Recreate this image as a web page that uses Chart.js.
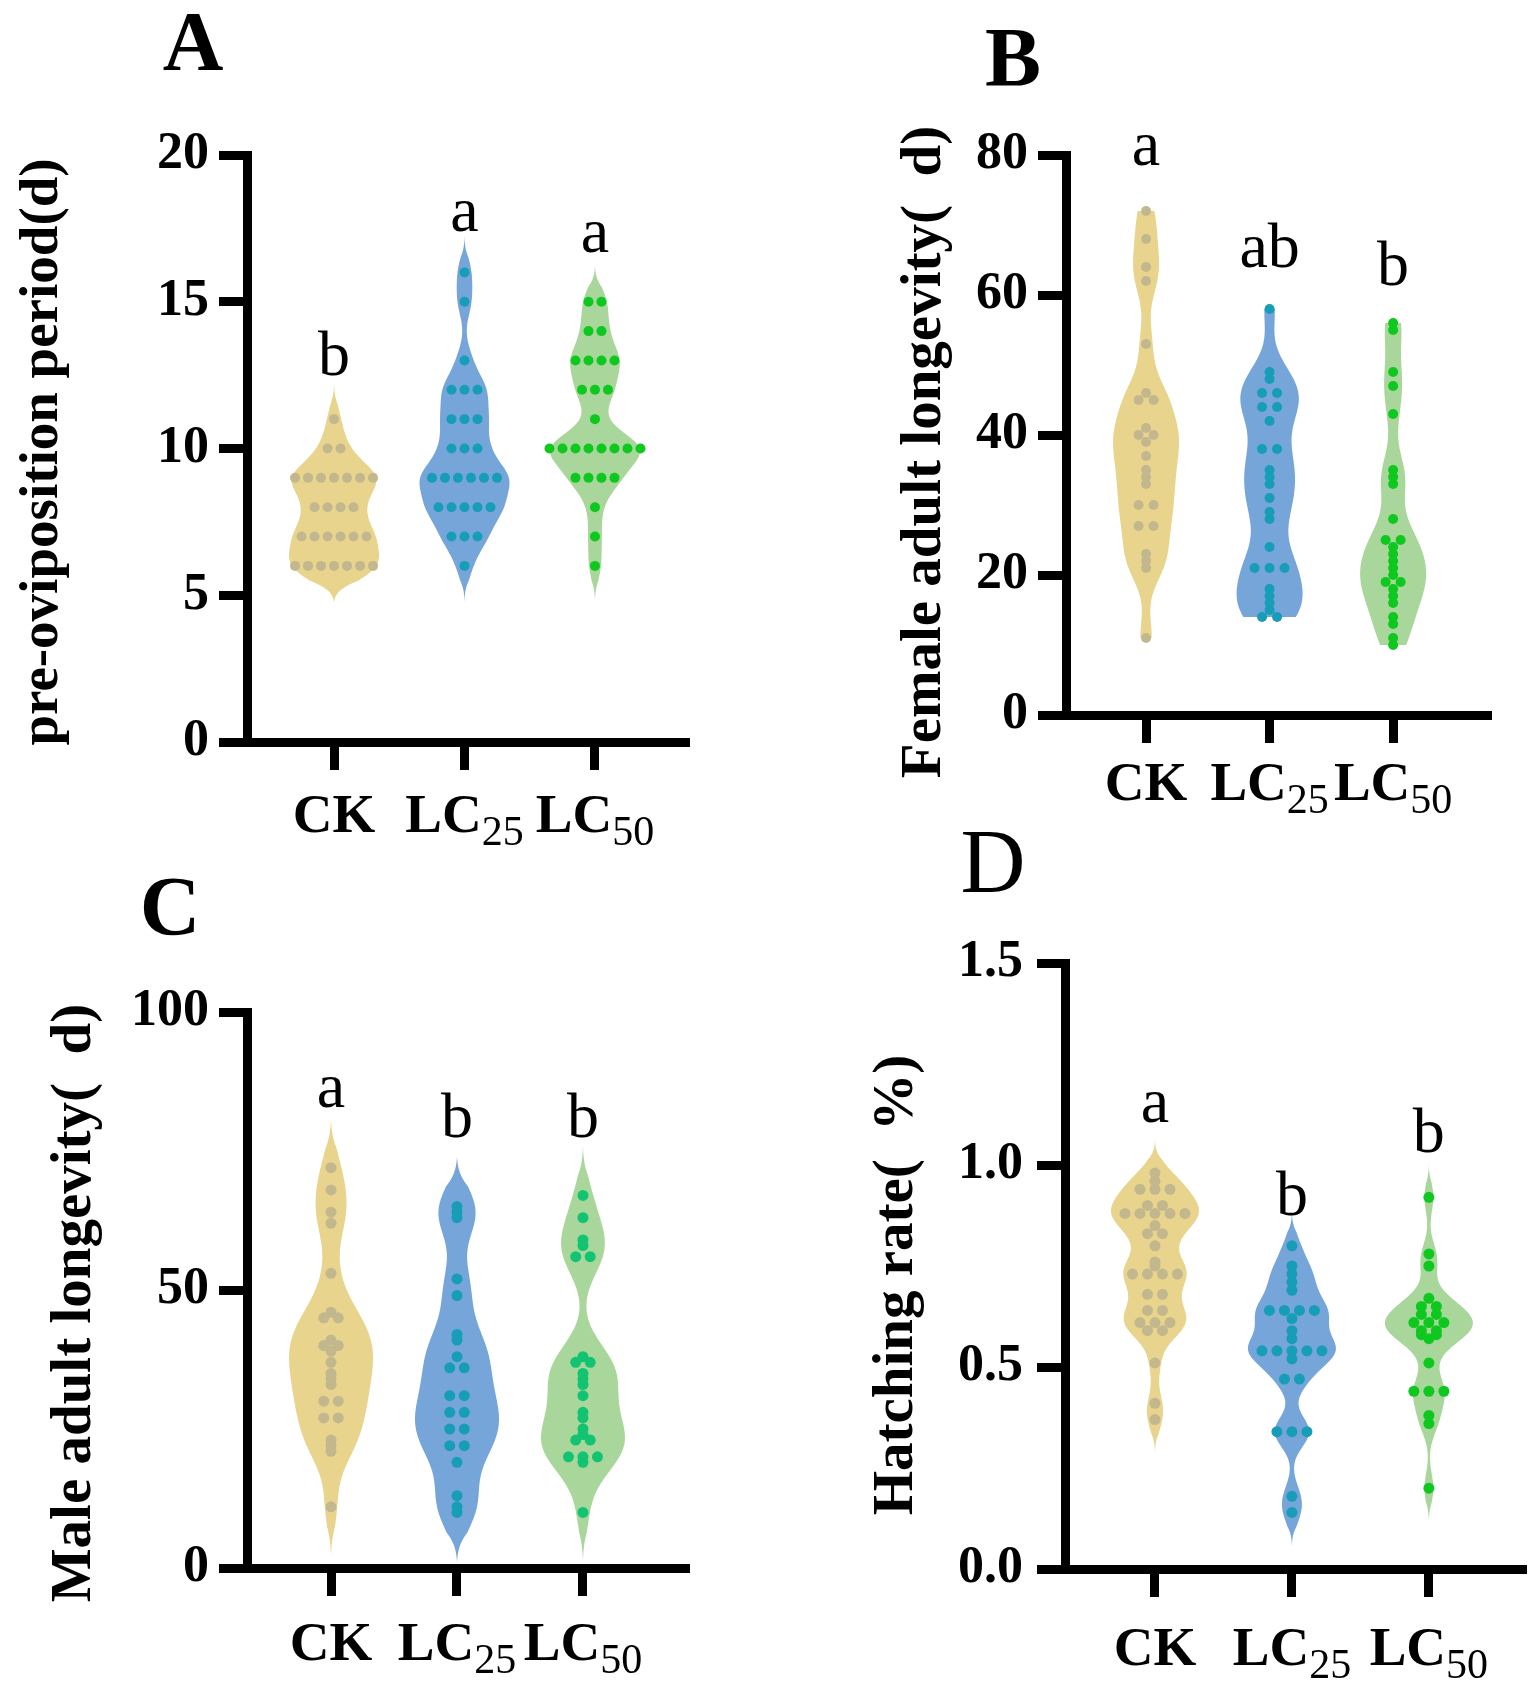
<!DOCTYPE html>
<html>
<head>
<meta charset="utf-8">
<script src="https://cdn.jsdelivr.net/npm/chart.js@4.4.1/dist/chart.umd.min.js"></script>
<style>
  html, body { margin: 0; padding: 0; background: #fff; }
  #wrap { position: relative; width: 1529px; height: 1700px; }
  #wrap canvas { position: absolute; left: 0; top: 0; }
</style>
</head>
<body>
<div id="wrap">
  <canvas id="chartA" width="1529" height="1700"></canvas>
  <canvas id="chartB" width="1529" height="1700"></canvas>
  <canvas id="chartC" width="1529" height="1700"></canvas>
  <canvas id="chartD" width="1529" height="1700"></canvas>
</div>
<script>
/* ===== data ===== */
const groupMain = ["CK", "LC", "LC"];
const groupSub = ["", "25", "50"];

// A  pre-oviposition period (d)
const preOviCK   = [11, 10, 10, 9, 9, 9, 9, 9, 9, 9, 8, 8, 8, 8, 7, 7, 7, 7, 7, 7, 6, 6, 6, 6, 6, 6, 6];
const preOviLC25 = [16, 15, 13, 12, 12, 12, 11, 11, 11, 10, 10, 10, 9, 9, 9, 9, 9, 9, 8, 8, 8, 8, 8, 7, 7, 7, 6];
const preOviLC50 = [15, 15, 14, 14, 13, 13, 13, 13, 12, 12, 12, 11, 10, 10, 10, 10, 10, 10, 10, 10, 9, 9, 9, 9, 8, 7, 6];
const preOviTicks = [0, 5, 10, 15, 20];
const preOviLetters = ["b", "a", "a"];
const preOviLetterAt = [12.5, 17.4, 16.7];

// B  female adult longevity (d)
const femaleCK   = [72, 68, 64, 62, 53, 46, 45, 45, 41, 40, 40, 39, 37, 35, 34, 33, 30, 30, 27, 27, 23, 22, 21, 11];
const femaleLC25 = [58, 49, 48, 46, 46, 44, 44, 42, 38, 38, 35, 34, 33, 31, 29, 28, 24, 21, 21, 21, 18, 17, 16, 15, 14, 14];
const femaleLC50 = [56, 55, 49, 47, 43, 35, 34, 33, 28, 25, 25, 24, 23, 22, 21, 20, 19, 19, 18, 17, 16, 14, 13, 11, 10];
const femaleTicks = [0, 20, 40, 60, 80];
const femaleLetters = ["a", "ab", "b"];
const femaleLetterAt = [78.6, 64, 61.4];

// C  male adult longevity (d)
const maleCK   = [72, 68, 64, 62, 53, 46, 45, 45, 41, 40, 40, 39, 37, 35, 34, 33, 30, 30, 27, 27, 23, 22, 21, 11];
const maleLC25 = [65, 64, 63, 52, 49, 42, 41, 38, 36, 36, 31, 31, 28, 28, 25, 25, 22, 22, 19, 13, 11, 10];
const maleLC50 = [67, 63, 59, 58, 56, 56, 38, 37, 37, 35, 34, 33, 31, 28, 27, 25, 24, 23, 23, 20, 20, 20, 19, 10];
const maleTicks = [0, 50, 100];
const maleLetters = ["a", "b", "b"];
const maleLetterAt = [82.9, 77.5, 77.5];

// D  hatching rate (%)
const hatchCK   = [0.98, 0.96, 0.94, 0.94, 0.94, 0.90, 0.90, 0.88, 0.88, 0.88, 0.88, 0.88, 0.85, 0.83, 0.83, 0.80, 0.76,
                   0.75, 0.73, 0.73, 0.73, 0.73, 0.68, 0.68, 0.64, 0.64, 0.61, 0.61, 0.61, 0.59, 0.59, 0.51, 0.41, 0.37];
const hatchLC25 = [0.80, 0.75, 0.73, 0.71, 0.69, 0.64, 0.64, 0.64, 0.64, 0.62, 0.59, 0.57, 0.54, 0.54, 0.54, 0.54, 0.54,
                   0.52, 0.47, 0.47, 0.34, 0.34, 0.34, 0.18, 0.14];
const hatchLC50 = [0.92, 0.78, 0.75, 0.67, 0.65, 0.65, 0.63, 0.63, 0.61, 0.61, 0.61, 0.59, 0.59, 0.58, 0.58, 0.57, 0.51,
                   0.44, 0.44, 0.44, 0.38, 0.36, 0.20];
const hatchTicks = [0, 0.5, 1, 1.5];
const hatchLetters = ["a", "b", "b"];
const hatchLetterAt = [1.106, 0.876, 1.032];

/* ===== styles ===== */
const SERIF = '"Liberation Serif", "Times New Roman", serif';
const violinFills = ["#E8D48D", "#76A5D9", "#A8D69B"];
const dotsGreen = ["#C3B88D", "#179DB8", "#0FC81F"];
const dotsTeal = ["#C3B88D", "#179DB8", "#12C472"];

/* ===== violin + text plugin ===== */
function panelPlugin(p) {
  return {
    id: "panel" + p.title,
    beforeDatasetsDraw(chart) {
      const { ctx, scales: { x, y } } = chart;
      p.values.forEach((vals, gi) => {
        const h = p.bw;
        const dens = v => vals.reduce((s, d) => s + Math.exp(-0.5 * ((v - d) / h) ** 2), 0);
        const min = Math.min(...vals), max = Math.max(...vals);
        const lo = min - p.ext, hi = max + p.ext;
        const N = 300;
        let dmax = 0;
        for (let i = 0; i <= N; i++) dmax = Math.max(dmax, dens(min + (max - min) * i / N));
        const pts = [];
        for (let i = 0; i <= N; i++) {
          const v = lo + (hi - lo) * i / N;
          let w = dens(v) / dmax;
          if (p.ext > 0) {
            const t = p.ext * 0.6;
            w *= Math.min(1, (v - lo) / t, (hi - v) / t);
          }
          pts.push([y.getPixelForValue(v), w * p.violinHalf]);
        }
        const xc = x.getPixelForValue(gi + 1);
        ctx.save();
        ctx.beginPath();
        pts.forEach(([py, w], i) => i ? ctx.lineTo(xc + w, py) : ctx.moveTo(xc + w, py));
        for (let i = pts.length - 1; i >= 0; i--) ctx.lineTo(xc - pts[i][1], pts[i][0]);
        ctx.closePath();
        ctx.fillStyle = violinFills[gi];
        ctx.fill();
        ctx.restore();
      });
    },
    afterDraw(chart) {
      const { ctx, chartArea, scales: { x, y } } = chart;
      ctx.save();
      ctx.fillStyle = "#000";

      // category labels with subscripts
      groupMain.forEach((main, gi) => {
        const cx = x.getPixelForValue(gi + 1);
        const base = chartArea.bottom + p.labelGap;
        const mainFont = "bold 55px " + SERIF;
        const subFont = "42px " + SERIF;
        ctx.font = mainFont;
        const wMain = ctx.measureText(main).width;
        ctx.font = subFont;
        const wSub = groupSub[gi] ? ctx.measureText(groupSub[gi]).width : 0;
        const left = cx - (wMain + wSub) / 2;
        ctx.textAlign = "left";
        ctx.textBaseline = "alphabetic";
        ctx.font = mainFont;
        ctx.fillText(main, left, base);
        if (groupSub[gi]) {
          ctx.font = subFont;
          ctx.fillText(groupSub[gi], left + wMain, base + 13);
        }
      });

      // significance letters
      ctx.font = "64px " + SERIF;
      ctx.textAlign = "center";
      p.letters.forEach((t, gi) => {
        ctx.fillText(t, x.getPixelForValue(gi + 1), y.getPixelForValue(p.letterAt[gi]));
      });

      // panel tag
      ctx.font = (p.titleBold ? "bold " : "") + p.titleSize + "px " + SERIF;
      ctx.fillText(p.title, p.titlePos[0], p.titlePos[1]);

      // y-axis title
      ctx.translate(p.yTitlePos[0], p.yTitlePos[1]);
      ctx.rotate(-Math.PI / 2);
      ctx.font = "bold " + p.yTitleSize + "px " + SERIF;
      ctx.textBaseline = "middle";
      ctx.fillText(p.yTitle, 0, 0);
      ctx.restore();
    }
  };
}

function axisGrid() {
  return { drawOnChartArea: false, drawTicks: true, tickLength: 28, tickWidth: 9, tickColor: "#000", color: "#000", lineWidth: 9 };
}

function makePanel(id, p) {
  const datasets = p.values.map((vals, gi) => ({
    data: vals.map(v => ({ x: gi + 1, y: v })),
    backgroundColor: p.dotColors[gi],
    borderWidth: 0,
    pointRadius: p.dotR,
    pointHoverRadius: p.dotR
  }));
  const Wy = 140, Hx = 120;
  const chart = new Chart(document.getElementById(id), {
    type: "scatter",
    data: { datasets },
    options: {
      responsive: false,
      animation: false,
      devicePixelRatio: 1,
      events: [],
      layout: {
        autoPadding: false,
        padding: { left: p.axisX - Wy, top: p.yTop, right: 1529 - p.xEnd, bottom: 1700 - p.yZero - Hx }
      },
      plugins: { legend: { display: false }, tooltip: { enabled: false } },
      scales: {
        x: {
          type: "linear", position: "bottom", min: p.xMin, max: p.xMax, z: 1,
          afterBuildTicks: s => { s.ticks = [1, 2, 3].map(v => ({ value: v })); },
          ticks: { display: false },
          grid: axisGrid(),
          border: { display: true, color: "#000", width: 9 },
          afterFit: s => { s.height = Hx; }
        },
        y: {
          type: "linear", min: p.ticks[0], max: p.ticks[p.ticks.length - 1], z: 1,
          afterBuildTicks: s => { s.ticks = p.ticks.map(v => ({ value: v })); },
          ticks: {
            color: "#000", padding: p.tickPad,
            font: { family: SERIF, size: 52, weight: "bold" },
            callback: v => p.decimals ? v.toFixed(p.decimals) : String(v)
          },
          grid: axisGrid(),
          border: { display: true, color: "#000", width: 9 },
          afterFit: s => { s.width = Wy; }
        }
      }
    },
    plugins: [panelPlugin(p)]
  });

  // spread tied values into centred rows
  const xs = chart.scales.x;
  const unit = xs.getPixelForValue(2) - xs.getPixelForValue(1);
  chart.data.datasets.forEach((ds, gi) => {
    const vals = p.values[gi];
    const counts = {}, seen = {};
    vals.forEach(v => { counts[v] = (counts[v] || 0) + 1; });
    ds.data = vals.map(v => {
      const k = seen[v] = (seen[v] === undefined ? 0 : seen[v] + 1);
      return { x: gi + 1 + (k - (counts[v] - 1) / 2) * p.dotGap / unit, y: v };
    });
  });
  chart.update("none");
  return chart;
}

makePanel("chartA", {
  title: "A", titleBold: true, titleSize: 84, titlePos: [193, 70],
  yTitle: "pre-oviposition period(d)", yTitleSize: 55, yTitlePos: [43, 452],
  values: [preOviCK, preOviLC25, preOviLC50], ticks: preOviTicks, decimals: 0,
  letters: preOviLetters, letterAt: preOviLetterAt,
  axisX: 247, xEnd: 685, yTop: 155, yZero: 742, xMin: 0.333, xMax: 3.69, tickPad: 10,
  bw: 0.55, ext: 1.25, violinHalf: 45, dotR: 5, dotGap: 13, dotColors: dotsGreen, labelGap: 90
});

makePanel("chartB", {
  title: "B", titleBold: true, titleSize: 84, titlePos: [1013, 86],
  yTitle: "Female adult longevity(  d)", yTitleSize: 57, yTitlePos: [925, 452],
  values: [femaleCK, femaleLC25, femaleLC50], ticks: femaleTicks, decimals: 0,
  letters: femaleLetters, letterAt: femaleLetterAt,
  axisX: 1066, xEnd: 1487, yTop: 155, yZero: 715, xMin: 0.352, xMax: 3.76, tickPad: 10,
  bw: 3.2, ext: 0, violinHalf: 33, dotR: 5, dotGap: 15, dotColors: dotsGreen, labelGap: 85
});

makePanel("chartC", {
  title: "C", titleBold: true, titleSize: 84, titlePos: [170, 935],
  yTitle: "Male adult longevity(  d)", yTitleSize: 57, yTitlePos: [75, 1303],
  values: [maleCK, maleLC25, maleLC50], ticks: maleTicks, decimals: 0,
  letters: maleLetters, letterAt: maleLetterAt,
  axisX: 247, xEnd: 685, yTop: 1012, yZero: 1568, xMin: 0.333, xMax: 3.81, tickPad: 10,
  bw: 4.5, ext: 9, violinHalf: 42, dotR: 5.5, dotGap: 14.5, dotColors: dotsTeal, labelGap: 92
});

makePanel("chartD", {
  title: "D", titleBold: false, titleSize: 90, titlePos: [993, 892],
  yTitle: "Hatching rate(  %)", yTitleSize: 57, yTitlePos: [897, 1285],
  values: [hatchCK, hatchLC25, hatchLC50], ticks: hatchTicks, decimals: 1,
  letters: hatchLetters, letterAt: hatchLetterAt,
  axisX: 1065, xEnd: 1522, yTop: 963, yZero: 1569, xMin: 0.343, xMax: 3.68, tickPad: 14,
  bw: 0.038, ext: 0.085, violinHalf: 44, dotR: 5.5, dotGap: 15, dotColors: dotsGreen, labelGap: 96
});
</script>
</body>
</html>
